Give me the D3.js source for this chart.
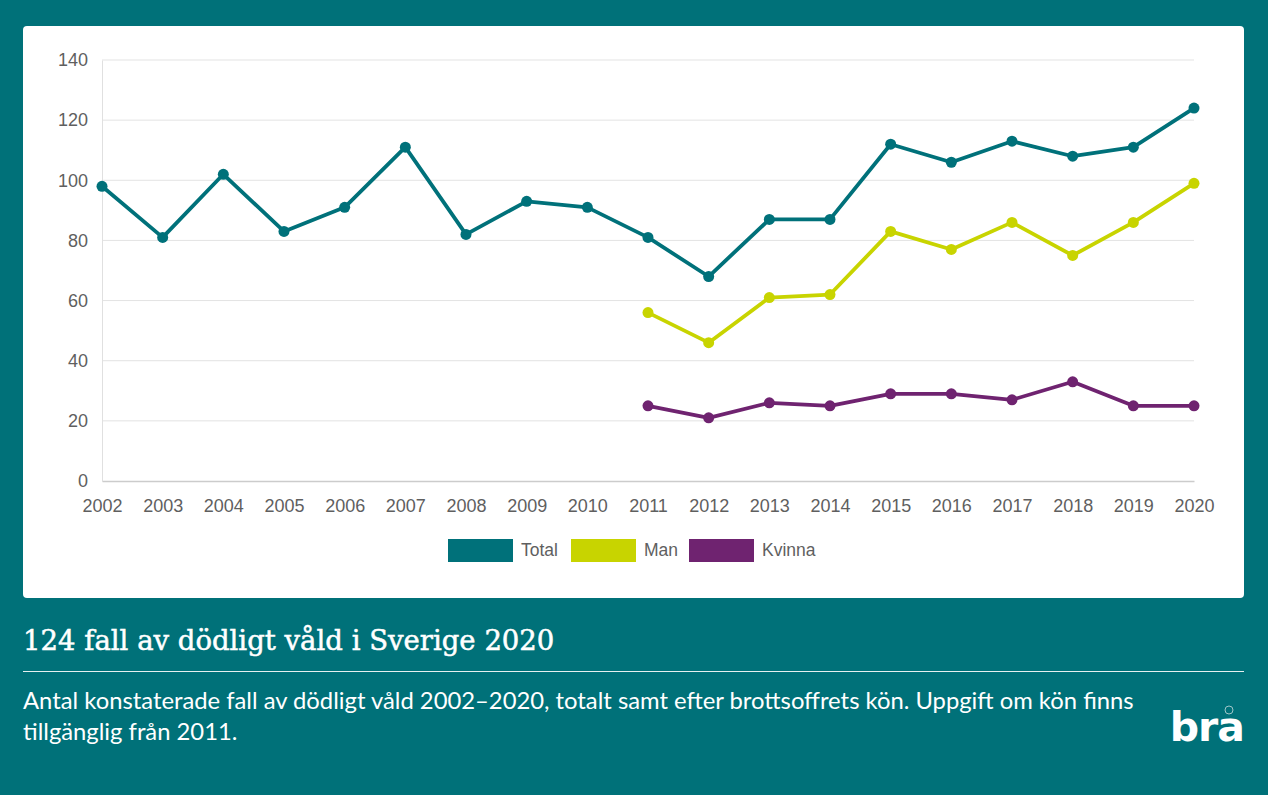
<!DOCTYPE html>
<html>
<head>
<meta charset="utf-8">
<script src="https://cdn.jsdelivr.net/npm/d3@7"></script>
<style>
  body { margin: 0; background: #007179; }
  svg { display: block; }
</style>
</head>
<body>
<div id="chart"></div>
<script>
const years = ["2002", "2003", "2004", "2005", "2006", "2007", "2008", "2009", "2010",
    "2011", "2012", "2013", "2014", "2015", "2016", "2017", "2018", "2019", "2020"];
const total = [98, 81, 102, 83, 91, 111, 82, 93, 91, 81, 68, 87, 87, 112, 106, 113, 108, 111, 124];
const man = [null, null, null, null, null, null, null, null, null,
    56, 46, 61, 62, 83, 77, 86, 75, 86, 99];
const kvinna = [null, null, null, null, null, null, null, null, null,
    25, 21, 26, 25, 29, 29, 27, 33, 25, 25];
const yTicks = [0, 20, 40, 60, 80, 100, 120, 140];
const seriesNames = ["Total", "Man", "Kvinna"];

const title = "124 fall av dödligt våld i Sverige 2020";
const subtitle = [
    "Antal konstaterade fall av dödligt våld 2002–2020, totalt samt efter brottsoffrets kön. Uppgift om kön finns",
    "tillgänglig från 2011."
];

const width = 1268;
const height = 795;
const bg = "#007179";
const colors = ["#00717a", "#c8d400", "#6f2370"];
const labelFont = "Liberation Sans, Arial, sans-serif";

const svg = (
    d3.select("#chart")
    .append("svg")
    .attr("width", width)
    .attr("height", height)
);

svg.append("rect").attr("width", width).attr("height", height).attr("fill", bg);

// white card
(
    svg.append("rect")
    .attr("x", 23).attr("y", 26)
    .attr("width", 1221).attr("height", 572)
    .attr("rx", 4)
    .attr("fill", "#fff")
);

const xScale = d3.scalePoint().domain(years).range([102, 1194]);
const yScale = d3.scaleLinear().domain([0, 140]).range([481, 60]);

// grid
const grid = svg.append("g");
(
    grid.selectAll("line")
    .data(yTicks.filter((t) => t > 0))
    .join("line")
    .attr("x1", 102).attr("x2", 1194)
    .attr("y1", (d) => yScale(d)).attr("y2", (d) => yScale(d))
    .attr("stroke", "#e3e3e3")
    .attr("stroke-width", 1)
);

// y axis
const yAxis = d3.axisLeft(yScale).tickValues(yTicks).tickSize(0).tickPadding(14);
const gy = (
    svg.append("g")
    .attr("transform", "translate(102, 0)")
    .call(yAxis)
);
gy.select(".domain").attr("stroke", "#e0e0e0");
(
    gy.selectAll("text")
    .attr("font-family", labelFont)
    .attr("font-size", 18)
    .attr("fill", "#5f5f5f")
);

// x axis
const xAxis = d3.axisBottom(xScale).tickSize(0).tickPadding(18);
const gx = (
    svg.append("g")
    .attr("transform", "translate(0, 481)")
    .call(xAxis)
);
gx.select(".domain").attr("stroke", "#cccccc").attr("stroke-width", 1.5);
(
    gx.selectAll("text")
    .attr("font-family", labelFont)
    .attr("font-size", 18)
    .attr("fill", "#5f5f5f")
);

// lines
const allSeries = [total, man, kvinna];
const line = (
    d3.line()
    .defined((d) => d != null)
    .x((d, i) => xScale(years[i]))
    .y((d) => yScale(d))
);

for (let s = 0; s < allSeries.length; ++s) {
    const g = svg.append("g");
    (
        g.append("path")
        .attr("d", line(allSeries[s]))
        .attr("fill", "none")
        .attr("stroke", colors[s])
        .attr("stroke-width", 3.8)
        .attr("stroke-linejoin", "round")
    );
    const pts = allSeries[s].map((v, i) => ({ year: years[i], v })).filter((p) => p.v != null);
    (
        g.selectAll("circle")
        .data(pts)
        .join("circle")
        .attr("cx", (d) => xScale(d.year))
        .attr("cy", (d) => yScale(d.v))
        .attr("r", 5.5)
        .attr("fill", colors[s])
    );
}

// legend
const legendX = [448, 571, 689];
const legend = svg.append("g");
for (let s = 0; s < seriesNames.length; ++s) {
    (
        legend.append("rect")
        .attr("x", legendX[s]).attr("y", 539)
        .attr("width", 65).attr("height", 23)
        .attr("fill", colors[s])
    );
    (
        legend.append("text")
        .attr("x", legendX[s] + 73).attr("y", 556)
        .attr("font-family", labelFont)
        .attr("font-size", 17.5)
        .attr("fill", "#5f5f5f")
        .text(seriesNames[s])
    );
}

// title and text below
(
    svg.append("text")
    .attr("x", 23).attr("y", 650)
    .attr("font-family", "DejaVu Serif, serif")
    .attr("font-size", 27.5)
    .attr("fill", "#fff")
    .attr("stroke", "#fff")
    .attr("stroke-width", 0.5)
    .text(title)
);
(
    svg.append("line")
    .attr("x1", 23).attr("x2", 1244)
    .attr("y1", 671.5).attr("y2", 671.5)
    .attr("stroke", "#e6f0f0")
    .attr("stroke-width", 1)
);
(
    svg.append("g")
    .selectAll("text")
    .data(subtitle)
    .join("text")
    .attr("x", 23)
    .attr("y", (d, i) => 709 + i * 31)
    .attr("font-family", "Lato, sans-serif")
    .attr("font-size", 23.8)
    .attr("fill", "#fff")
    .text((d) => d)
);

// logo
const logo = svg.append("g");
(
    logo.append("text")
    .attr("x", 1244).attr("y", 741)
    .attr("text-anchor", "end")
    .attr("font-family", "DejaVu Sans, sans-serif")
    .attr("font-weight", "bold")
    .attr("font-size", 41)
    .attr("letter-spacing", -1)
    .attr("fill", "#fff")
    .text("bra")
);
(
    logo.append("circle")
    .attr("cx", 1229).attr("cy", 710)
    .attr("r", 4)
    .attr("fill", "none")
    .attr("stroke", "#9fc6c8")
    .attr("stroke-width", 1)
);
</script>
</body>
</html>
